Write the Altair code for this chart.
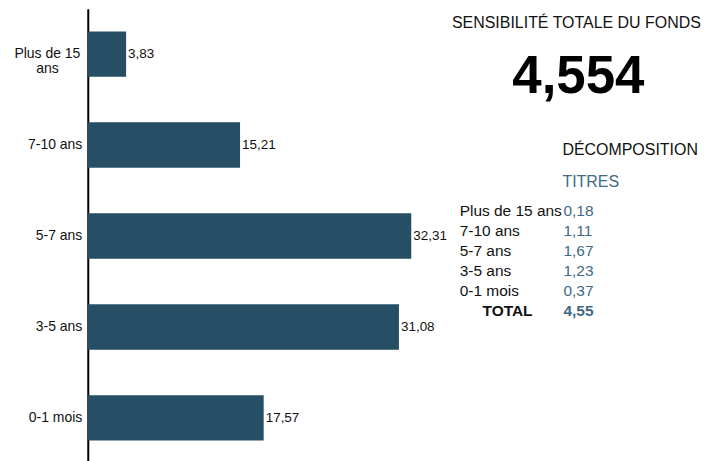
import altair as alt
import pandas as pd

# ---- data ----
categories = ["Plus de 15 ans", "7-10 ans", "5-7 ans", "3-5 ans", "0-1 mois"]
weights = [3.83, 15.21, 32.31, 31.08, 17.57]
sens_values = [0.18, 1.11, 1.67, 1.23, 0.37]
sens_total = 4.55
fund_sensitivity = 4.554
title_text = "SENSIBILITÉ TOTALE DU FONDS"
decomp_text = "DÉCOMPOSITION"
column_text = "TITRES"
total_text = "TOTAL"

BAR = "#264F65"
BLUE = "#3F6986"
INK = "#111111"
FONT = "Liberation Sans"

W = 624
H = 456

bars_df = pd.DataFrame({"cat": categories, "w": weights})
table_df = pd.DataFrame({"cat": categories, "v": sens_values, "row": list(range(len(categories)))})
total_df = pd.DataFrame({"cat": [total_text], "v": [sens_total], "row": [len(categories)]})
head_df = pd.DataFrame({"big": [fund_sensitivity]})

comma2 = "replace(format(datum.{f}, '.2f'), '.', ',')"

x_scale = alt.Scale(domain=[0, 62.15], nice=False, zero=True)
y_band = alt.Scale(paddingInner=0.5, paddingOuter=0.25)

wrap = "datum.value == 'Plus de 15 ans'"
y_axis = alt.Axis(
    title=None,
    ticks=False,
    tickSize=0,
    grid=False,
    domain=True,
    domainColor="#000000",
    domainWidth=2,
    labelFont=FONT,
    labelFontSize=14,
    labelColor=INK,
    labelLineHeight=15,
    labelExpr="datum.value == 'Plus de 15 ans' ? ['Plus de 15', 'ans'] : datum.value",
    labelAlign={"condition": {"test": wrap, "value": "center"}, "value": "right"},
    labelPadding={"condition": {"test": wrap, "value": 41}, "value": 6},
    labelLimit=200,
)

bars = alt.Chart(bars_df).mark_bar(color=BAR).encode(
    x=alt.X("w:Q", scale=x_scale, axis=None),
    y=alt.Y("cat:N", sort=categories, scale=y_band, axis=y_axis),
)

bar_labels = alt.Chart(bars_df).transform_calculate(
    lab=comma2.format(f="w")
).mark_text(align="left", baseline="middle", dx=2, font=FONT, fontSize=13.5, color=INK).encode(
    x=alt.X("w:Q", scale=x_scale, axis=None),
    y=alt.Y("cat:N", sort=categories, scale=y_band, axis=None),
    text="lab:N",
)

title = alt.Chart(head_df).mark_text(
    align="center", baseline="middle", font=FONT, fontSize=16, color=INK, text=title_text
).encode(x=alt.value(490), y=alt.value(14))

big = alt.Chart(head_df).transform_calculate(
    lab="replace(format(datum.big, '.3f'), '.', ',')"
).mark_text(
    align="center", baseline="alphabetic", font=FONT, fontSize=53, fontWeight="bold", color="#000000"
).encode(x=alt.value(492), y=alt.value(85), text="lab:N")

decomp = alt.Chart(head_df).mark_text(
    align="left", baseline="middle", font=FONT, fontSize=16, color=INK, text=decomp_text
).encode(x=alt.value(476), y=alt.value(142))

col_head = alt.Chart(head_df).mark_text(
    align="left", baseline="middle", font=FONT, fontSize=16, color=BLUE, text=column_text
).encode(x=alt.value(476), y=alt.value(174))

row_scale = alt.Scale(domain=[0, 5], range=[203, 303])

tbl_labels = alt.Chart(table_df).mark_text(
    align="left", baseline="middle", font=FONT, fontSize=15.5, color=INK
).encode(x=alt.value(373), y=alt.Y("row:Q", scale=row_scale, axis=None), text="cat:N")

tbl_values = alt.Chart(table_df).transform_calculate(
    lab=comma2.format(f="v")
).mark_text(
    align="left", baseline="middle", font=FONT, fontSize=15.5, color=BLUE
).encode(x=alt.value(477), y=alt.Y("row:Q", scale=row_scale, axis=None), text="lab:N")

tot_label = alt.Chart(total_df).mark_text(
    align="right", baseline="middle", font=FONT, fontSize=15.5, fontWeight="bold", color=INK
).encode(x=alt.value(446), y=alt.Y("row:Q", scale=row_scale, axis=None), text="cat:N")

tot_value = alt.Chart(total_df).transform_calculate(
    lab=comma2.format(f="v")
).mark_text(
    align="left", baseline="middle", font=FONT, fontSize=15.5, fontWeight="bold", color=BLUE
).encode(x=alt.value(477), y=alt.Y("row:Q", scale=row_scale, axis=None), text="lab:N")

chart = alt.layer(
    bars, bar_labels, title, big, decomp, col_head, tbl_labels, tbl_values, tot_label, tot_value
).resolve_scale(y="independent").properties(
    width=W,
    height=H,
    padding={"left": 5, "top": 0, "right": 0, "bottom": 0},
    background="white",
).configure(
    font=FONT,
    view=alt.ViewConfig(strokeWidth=0, strokeOpacity=0),
)

chart.save("out.html", embed_options={"renderer": "svg", "actions": False})
